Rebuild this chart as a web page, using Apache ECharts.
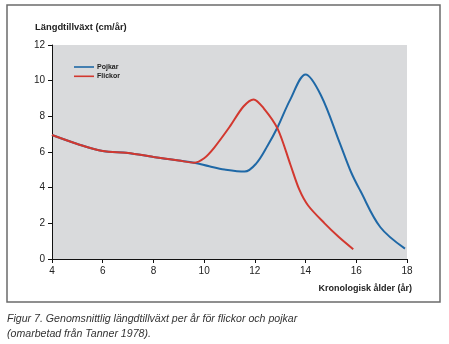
<!DOCTYPE html>
<html>
<head>
<meta charset="utf-8">
<script src="https://cdn.jsdelivr.net/npm/echarts@6/dist/echarts.min.js"></script>
<style>
  html, body { margin: 0; padding: 0; background: #fff; }
  #chart { width: 449px; height: 344px; }
</style>
</head>
<body>
<div id="chart"></div>
<script>
// Growth velocity (cm per year) by chronological age
const boysAge   = [4, 5, 6, 7, 8, 9, 9.6, 10.2, 10.8, 11.6, 12.05, 12.5, 12.9, 13.4, 14, 14.6, 15.35, 15.8, 16.15, 16.95, 17.92];
const boysRate  = [6.95, 6.45, 6.05, 5.95, 5.72, 5.52, 5.4, 5.2, 5.02, 4.9, 5.35, 6.35, 7.4, 8.95, 10.35, 9.2, 6.5, 4.85, 3.85, 1.78, 0.58];
const girlsAge  = [4, 5, 6, 7, 8, 9, 9.6, 10.0, 10.4, 11, 11.55, 11.95, 12.35, 12.9, 13.4, 13.75, 14.1, 14.75, 15.3, 15.88];
const girlsRate = [6.95, 6.45, 6.05, 5.95, 5.72, 5.52, 5.4, 5.65, 6.25, 7.4, 8.55, 8.95, 8.45, 7.3, 5.3, 3.9, 3.0, 2.0, 1.25, 0.55];
const xTicks = [4, 6, 8, 10, 12, 14, 16, 18];
const yTicks = [0, 2, 4, 6, 8, 10, 12];

const pairs = (xs, ys) => xs.map((x, i) => [x, ys[i]]);
const font = '"Liberation Sans", Arial, sans-serif';

const chart = echarts.init(document.getElementById('chart'));
chart.setOption({
  animation: false,
  backgroundColor: '#ffffff',
  textStyle: { fontFamily: font },
  grid: {
    left: 52, top: 45, right: 42, bottom: 85,
    show: true, backgroundColor: '#d9dadc', borderWidth: 0
  },
  legend: {
    orient: 'vertical', left: 69, top: 58.5,
    icon: 'rect', itemWidth: 20, itemHeight: 1.6, itemGap: 2.3,
    textStyle: { fontSize: 7, fontWeight: 'bold', color: '#222', fontFamily: font, padding: [0, 0, 0, -2] },
    data: ['Pojkar', 'Flickor']
  },
  xAxis: {
    type: 'value', min: xTicks[0], max: xTicks[xTicks.length - 1], interval: 2,
    axisLine: { show: true, lineStyle: { color: '#111', width: 1 } },
    axisTick: { show: true, length: 4, lineStyle: { color: '#111' } },
    axisLabel: { fontSize: 10, color: '#222', margin: 7, fontFamily: font },
    splitLine: { show: false }
  },
  yAxis: {
    type: 'value', min: yTicks[0], max: yTicks[yTicks.length - 1], interval: 2,
    axisLine: { show: true, lineStyle: { color: '#111', width: 1 } },
    axisTick: { show: true, length: 4, lineStyle: { color: '#111' } },
    axisLabel: { fontSize: 10, color: '#222', margin: 7, fontFamily: font },
    splitLine: { show: false }
  },
  graphic: [
    { type: 'rect', shape: { x: 7, y: 5, width: 433, height: 297 },
      style: { fill: 'none', stroke: '#6b6b6b', lineWidth: 1.5 }, z: -1 },
    { type: 'text', left: 35, top: 23,
      style: { text: 'Längdtillväxt (cm/år)', font: 'bold 9.4px ' + font, fill: '#222' } },
    { type: 'text', right: 37, top: 284,
      style: { text: 'Kronologisk ålder (år)', font: 'bold 9px ' + font, fill: '#222' } },
    { type: 'text', left: 7, top: 312,
      style: { text: 'Figur 7. Genomsnittlig längdtillväxt per år för flickor och pojkar\n(omarbetad från Tanner 1978).',
               font: 'italic 10.6px ' + font, fill: '#333', lineHeight: 15 } }
  ],
  series: [
    { name: 'Pojkar', type: 'line', smooth: 0.35, symbol: 'none',
      data: pairs(boysAge, boysRate),
      lineStyle: { color: '#1f68a6', width: 2 }, itemStyle: { color: '#1f68a6' } },
    { name: 'Flickor', type: 'line', smooth: 0.3, symbol: 'none',
      data: pairs(girlsAge, girlsRate),
      lineStyle: { color: '#d2382f', width: 2 }, itemStyle: { color: '#d2382f' } }
  ]
});
</script>
</body>
</html>
